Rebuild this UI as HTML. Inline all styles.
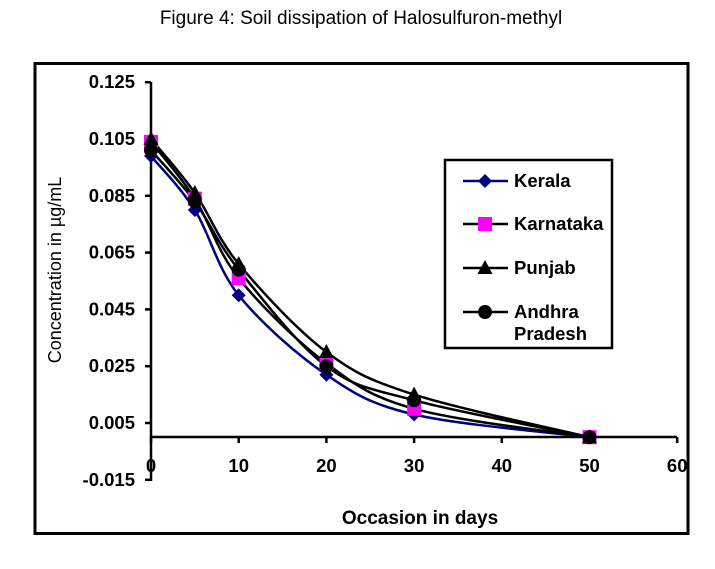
<!DOCTYPE html>
<html><head><meta charset="utf-8"><style>
html,body{margin:0;padding:0;background:#fff;}
svg{display:block;font-family:"Liberation Sans",Arial,sans-serif;}
</style></head><body>
<svg id="s" width="715" height="569" viewBox="0 0 715 569">
<text x="361" y="24" text-anchor="middle" font-size="19">Figure 4:  Soil dissipation of Halosulfuron-methyl</text>
<rect x="35" y="63.5" width="653" height="470" fill="none" stroke="#000" stroke-width="3"/>
<g id="ax" stroke="#000" stroke-width="2.5"></g>
<g id="lab" font-size="18.5" font-weight="bold"></g>
<g id="ser"></g>
<text transform="translate(61,270) rotate(-90)" text-anchor="middle" font-size="18">Concentration in µg/mL</text>
<text x="420" y="524" text-anchor="middle" font-size="19" font-weight="bold">Occasion in days</text>
<rect x="445" y="160" width="167" height="188" fill="#fff" stroke="#000" stroke-width="2.5"/>
<g id="leg" font-size="18.5" font-weight="bold"></g>
</svg>
<script>
const NS="http://www.w3.org/2000/svg";
function el(p,t,a,txt){const e=document.createElementNS(NS,t);for(const k in a)e.setAttribute(k,a[k]);if(txt)e.textContent=txt;p.appendChild(e);return e;}
const X=d=>151+d*8.77, Y=v=>437.2-v*2840;
const ax=document.getElementById('ax'),lab=document.getElementById('lab');
el(ax,'line',{x1:151,y1:82,x2:151,y2:481});
el(ax,'line',{x1:151,y1:437,x2:677,y2:437});
for(let i=0;i<8;i++){const v=0.125-0.02*i,y=Y(v);el(ax,'line',{x1:145,y1:y,x2:151,y2:y});
el(lab,'text',{x:135,y:y+6,'text-anchor':'end'},v.toFixed(3));}
for(let d=0;d<=60;d+=10){const x=X(d);el(ax,'line',{x1:x,y1:437,x2:x,y2:443});
el(lab,'text',{x:x,y:472,'text-anchor':'middle'},String(d));}
const days=[0,5,10,20,30,50];
const S=[
 {n:'Kerala',c:'#000080',m:'dia',mc:'#000080',v:[0.099,0.080,0.050,0.022,0.008,0]},
 {n:'Karnataka',c:'#000',m:'sq',mc:'#ff00ff',v:[0.104,0.084,0.056,0.026,0.010,0]},
 {n:'Punjab',c:'#000',m:'tri',mc:'#000',v:[0.105,0.086,0.061,0.030,0.015,0]},
 {n:'Andhra',c:'#000',m:'cir',mc:'#000',v:[0.101,0.083,0.059,0.025,0.013,0]}];
function path(pts){let d=`M${pts[0][0]},${pts[0][1]}`;for(let i=0;i<pts.length-1;i++){const p0=pts[i-1]||pts[i],p1=pts[i],p2=pts[i+1],p3=pts[i+2]||p2;
const c1=[p1[0]+(p2[0]-p0[0])/6,p1[1]+(p2[1]-p0[1])/6],c2=[p2[0]-(p3[0]-p1[0])/6,p2[1]-(p3[1]-p1[1])/6];
d+=` C${c1} ${c2} ${p2}`;}return d;}
function mark(g,m,x,y,c){if(m=='dia')el(g,'polygon',{points:`${x},${y-7} ${x+7},${y} ${x},${y+7} ${x-7},${y}`,fill:c});
else if(m=='sq')el(g,'rect',{x:x-7,y:y-7,width:14,height:14,fill:c});
else if(m=='tri')el(g,'polygon',{points:`${x},${y-8} ${x+7.5},${y+6} ${x-7.5},${y+6}`,fill:c});
else el(g,'circle',{cx:x,cy:y,r:7,fill:c});}
const g=document.getElementById('ser');
S.forEach(s=>{const pts=days.map((d,i)=>[X(d),Y(s.v[i])]);el(g,'path',{d:path(pts),fill:'none',stroke:s.c,'stroke-width':2.5});});
S.forEach(s=>{days.forEach((d,i)=>mark(g,s.m,X(d),Y(s.v[i]),s.mc));});
const lg=document.getElementById('leg');
const ly=[181,224,268,312];
S.forEach((s,i)=>{const y=ly[i];el(lg,'line',{x1:463,y1:y,x2:508,y2:y,stroke:s.c,'stroke-width':2.5});mark(lg,s.m,485,y,s.mc);
el(lg,'text',{x:514,y:y+6},s.n);});
el(lg,'text',{x:514,y:340},'Pradesh');
</script>
</body></html>
